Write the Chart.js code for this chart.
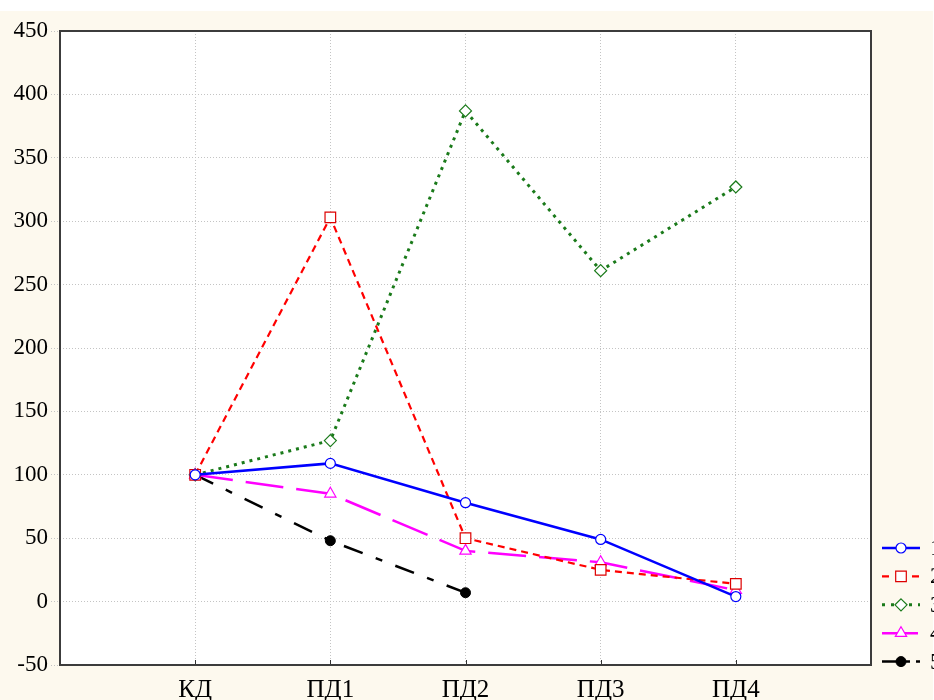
<!DOCTYPE html>
<html>
<head>
<meta charset="utf-8">
<script src="https://cdn.jsdelivr.net/npm/chart.js@4.4.1/dist/chart.umd.min.js"></script>
<style>
html,body{margin:0;padding:0;background:#ffffff;}
#wrap{width:934px;height:700px;}
</style>
</head>
<body>
<div id="wrap"><canvas id="c" width="934" height="700"></canvas></div>
<script>
const categories = ['КД', 'ПД1', 'ПД2', 'ПД3', 'ПД4'];
const seriesNames = ['1', '2', '3', '4', '5'];
const s1 = [100, 109, 78, 49, 4];
const s2 = [100, 303, 50, 25, 14];
const s3 = [100, 127, 387, 261, 327];
const s4 = [100, 85, 40, 31, 9];
const s5 = [100, 48, 7, null, null];
const yTicks = [-50, 0, 50, 100, 150, 200, 250, 300, 350, 400, 450];

const FONT = 'Liberation Serif';

function pts(arr){
  const out = [];
  arr.forEach((v,i)=>{ if(v!==null) out.push({x:i, y:v}); });
  return out;
}

const datasets = [
  {label: seriesNames[0], data: pts(s1), borderColor:'#0000ff', borderWidth:2.5, borderDash:[],
   pointStyle:'circle', pointRadius:5, pointBackgroundColor:'#ffffff', pointBorderColor:'#0000ff', pointBorderWidth:1.2,
   legendDash: []},
  {label: seriesNames[1], data: pts(s2), borderColor:'#ff0000', borderWidth:2.2, borderDash:[7,5],
   pointStyle:'rect', pointRadius:7.5, pointBackgroundColor:'#ffffff', pointBorderColor:'#dd0000', pointBorderWidth:1.2,
   legendDash: [7,8]},
  {label: seriesNames[2], data: pts(s3), borderColor:'#1a7a1a', borderWidth:3, borderDash:[3,5],
   pointStyle:'rectRot', pointRadius:6, pointBackgroundColor:'#ffffff', pointBorderColor:'#1a7a1a', pointBorderWidth:1.2,
   legendDash: [3,6]},
  {label: seriesNames[3], data: pts(s4), borderColor:'#ff00ff', borderWidth:2.5, borderDash:[38,13],
   pointStyle:'triangle', pointRadius:6.5, pointBackgroundColor:'#ffffff', pointBorderColor:'#ff00ff', pointBorderWidth:1.2,
   legendDash: [16,4]},
  {label: seriesNames[4], data: pts(s5), borderColor:'#000000', borderWidth:2.5, borderDash:[20,14,7,14],
   pointStyle:'circle', pointRadius:5, pointBackgroundColor:'#000000', pointBorderColor:'#000000', pointBorderWidth:1,
   legendDash: [16,6,6,6]}
];
datasets.forEach(d=>{ d.fill=false; d.tension=0; d.pointHoverRadius=d.pointRadius; d.spanGaps=false; });

const bgPlugin = {
  id:'bg',
  beforeDraw(chart){
    const ctx = chart.ctx, a = chart.chartArea;
    ctx.save();
    ctx.fillStyle = '#ffffff';
    ctx.fillRect(0,0,chart.width,chart.height);
    ctx.fillStyle = '#fdf9ee';
    ctx.fillRect(0,11,933,chart.height-11);
    ctx.fillStyle = '#ffffff';
    ctx.fillRect(a.left,a.top,a.right-a.left,a.bottom-a.top);
    ctx.restore();
  },
  beforeDatasetsDraw(chart){
    const ctx = chart.ctx, a = chart.chartArea;
    ctx.save();
    const xs = chart.scales.x;
    ctx.strokeStyle = '#333';
    ctx.lineWidth = 1;
    categories.forEach((c,i)=>{
      const x = Math.round(xs.getPixelForValue(i))+0.5;
      ctx.beginPath(); ctx.moveTo(x,a.bottom); ctx.lineTo(x,a.bottom-5); ctx.stroke();
    });
    ctx.strokeStyle = '#3c3c3c';
    ctx.lineWidth = 2;
    ctx.strokeRect(a.left, a.top, a.right-a.left, a.bottom-a.top);
    ctx.restore();
  }
};

function drawMarker(ctx, d, x, y){
  const r = d.pointRadius;
  ctx.save();
  ctx.fillStyle = d.pointBackgroundColor;
  ctx.strokeStyle = d.pointBorderColor;
  ctx.lineWidth = d.pointBorderWidth;
  ctx.setLineDash([]);
  ctx.beginPath();
  if(d.pointStyle==='circle'){
    ctx.arc(x,y,r,0,Math.PI*2);
  } else if(d.pointStyle==='rect'){
    const s = r*Math.SQRT1_2;
    ctx.rect(x-s,y-s,2*s,2*s);
  } else if(d.pointStyle==='rectRot'){
    ctx.moveTo(x,y-r); ctx.lineTo(x+r,y); ctx.lineTo(x,y+r); ctx.lineTo(x-r,y); ctx.closePath();
  } else if(d.pointStyle==='triangle'){
    ctx.moveTo(x, y-r); ctx.lineTo(x+r*0.87, y+r*0.5); ctx.lineTo(x-r*0.87, y+r*0.5); ctx.closePath();
  }
  ctx.fill(); ctx.stroke();
  ctx.restore();
}

const legendPlugin = {
  id:'customLegend',
  afterDraw(chart){
    const ctx = chart.ctx;
    const x0 = 882, x1 = 920, xm = 901, xt = 930;
    chart.data.datasets.forEach((d,i)=>{
      const y = 548 + i*28.4;
      ctx.save();
      ctx.strokeStyle = d.borderColor;
      ctx.lineWidth = d.borderWidth;
      ctx.setLineDash(d.legendDash);
      ctx.beginPath(); ctx.moveTo(x0,y); ctx.lineTo(x1,y); ctx.stroke();
      ctx.restore();
      drawMarker(ctx, d, xm, y);
      ctx.save();
      ctx.fillStyle = '#000';
      ctx.font = '23px "' + FONT + '"';
      ctx.textBaseline = 'middle';
      ctx.textAlign = 'left';
      ctx.fillText(d.label, xt, y+1);
      ctx.restore();
    });
  }
};

new Chart(document.getElementById('c'), {
  type:'line',
  data:{datasets},
  options:{
    responsive:false,
    animation:false,
    events:[],
    layout:{padding:{top:31, right:63, left:0, bottom:0}},
    plugins:{legend:{display:false}, tooltip:{enabled:false}},
    scales:{
      x:{
        type:'linear', min:-1, max:5,
        afterFit(s){ s.height = 35; },
        afterBuildTicks(s){ s.ticks = [-1,0,1,2,3,4,5].map(v=>({value:v})); },
        ticks:{
          autoSkip:false, maxRotation:0, padding:10,
          color:'#000',
          font:{family:FONT, size:25},
          callback:(v)=> (categories[v] !== undefined ? categories[v] : '')
        },
        grid:{color:'#c4c4c4', lineWidth:1, drawTicks:false},
        border:{display:false, dash:[1,2]}
      },
      y:{
        type:'linear', min:-50, max:450,
        afterFit(s){ s.width = 60; },
        afterBuildTicks(s){ s.ticks = yTicks.map(v=>({value:v})); },
        ticks:{
          color:'#000', padding:3,
          font:{family:FONT, size:23}
        },
        grid:{color:'#c4c4c4', lineWidth:1, drawTicks:true, tickLength:9, tickColor:'#c4c4c4', tickBorderDash:[1,2]},
        border:{display:false, dash:[1,2]}
      }
    }
  },
  plugins:[bgPlugin, legendPlugin]
});
</script>
</body>
</html>
